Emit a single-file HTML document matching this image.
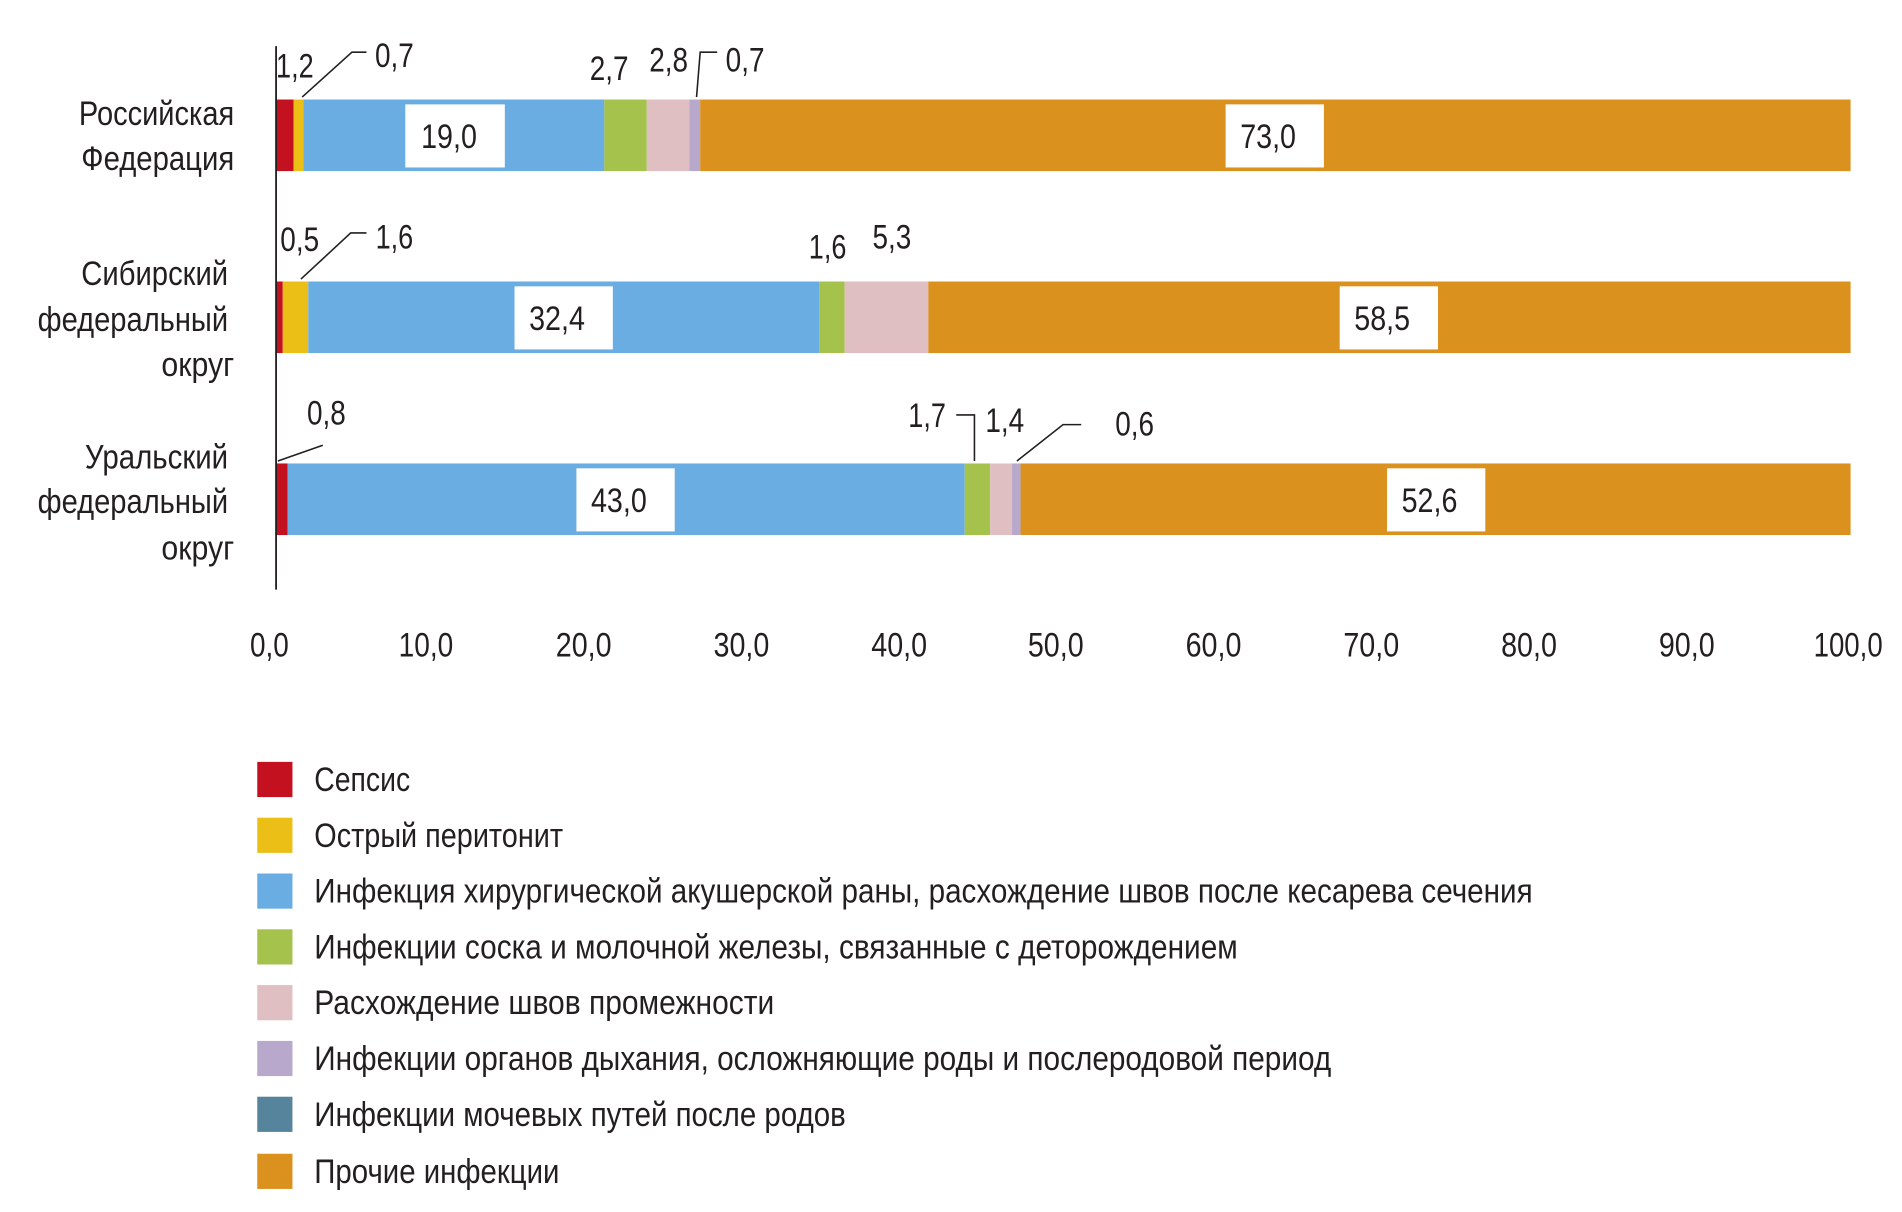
<!DOCTYPE html>
<html><head><meta charset="utf-8"><style>
html,body{margin:0;padding:0;background:#fff}
svg{display:block}
text{font-family:"Liberation Sans Narrow","Liberation Sans","Noto Sans CJK SC",sans-serif;fill:#231f20;font-size:28px}
</style></head><body>
<svg width="1902" height="1212" viewBox="0 0 1560 994" xmlns="http://www.w3.org/2000/svg">
<rect width="1560" height="994" fill="#fff"/>
<g transform="scale(0.9953,0.995)">
<!-- bar 1 -->
<rect x="227" y="82" width="15" height="59" fill="#c4111f"/>
<rect x="242" y="82" width="8" height="59" fill="#ecbf16"/>
<rect x="250" y="82" width="248" height="59" fill="#6aade2"/>
<rect x="498" y="82" width="35" height="59" fill="#a4c24c"/>
<rect x="533" y="82" width="35" height="59" fill="#dfbfc1"/>
<rect x="568" y="82" width="9" height="59" fill="#b7a8cc"/>
<rect x="577" y="82" width="948" height="59" fill="#db911d"/>
<!-- bar 2 -->
<rect x="227" y="232" width="6" height="59" fill="#c4111f"/>
<rect x="233" y="232" width="21" height="59" fill="#ecbf16"/>
<rect x="254" y="232" width="421" height="59" fill="#6aade2"/>
<rect x="675" y="232" width="21" height="59" fill="#a4c24c"/>
<rect x="696" y="232" width="69" height="59" fill="#dfbfc1"/>
<rect x="765" y="232" width="760" height="59" fill="#db911d"/>
<!-- bar 3 -->
<rect x="227" y="382" width="10" height="59" fill="#c4111f"/>
<rect x="237" y="382" width="558" height="59" fill="#6aade2"/>
<rect x="795" y="382" width="21" height="59" fill="#a4c24c"/>
<rect x="816" y="382" width="18" height="59" fill="#dfbfc1"/>
<rect x="834" y="382" width="7" height="59" fill="#b7a8cc"/>
<rect x="841" y="382" width="684" height="59" fill="#db911d"/>
<!-- axis -->
<line x1="227.5" y1="38" x2="227.5" y2="486" stroke="#231f20" stroke-width="1.5"/>
<!-- value boxes -->
<g fill="#fff">
<rect x="334" y="86" width="82" height="52"/><rect x="1010" y="86" width="81" height="52"/>
<rect x="424" y="236" width="81" height="52"/><rect x="1104" y="236" width="81" height="52"/>
<rect x="475" y="386" width="81" height="52"/><rect x="1143" y="386" width="81" height="52"/>
</g>
<g text-anchor="middle">
<text x="370" y="122" textLength="46" lengthAdjust="spacingAndGlyphs">19,0</text><text x="1045" y="122" textLength="46" lengthAdjust="spacingAndGlyphs">73,0</text>
<text x="459" y="272" textLength="46" lengthAdjust="spacingAndGlyphs">32,4</text><text x="1139" y="272" textLength="46" lengthAdjust="spacingAndGlyphs">58,5</text>
<text x="510" y="422" textLength="46" lengthAdjust="spacingAndGlyphs">43,0</text><text x="1178" y="422" textLength="46" lengthAdjust="spacingAndGlyphs">52,6</text>
</g>
<!-- annotations -->
<g fill="none" stroke="#231f20" stroke-width="1.3">
<polyline points="249,80 290,43 302,43"/>
<polyline points="574,80 577,43 591,43"/>
<polyline points="248,230 289,192 302,192"/>
<polyline points="229,380 266,367"/>
<polyline points="788,342 803,342 803,380"/>
<polyline points="838,380 876,350 891,350"/>
</g>
<g text-anchor="middle">
<text x="243" y="64" textLength="31" lengthAdjust="spacingAndGlyphs">1,2</text><text x="325" y="55" textLength="32" lengthAdjust="spacingAndGlyphs">0,7</text>
<text x="502" y="66" textLength="32" lengthAdjust="spacingAndGlyphs">2,7</text><text x="551" y="59" textLength="32" lengthAdjust="spacingAndGlyphs">2,8</text><text x="614" y="59" textLength="32" lengthAdjust="spacingAndGlyphs">0,7</text>
<text x="247" y="207" textLength="32" lengthAdjust="spacingAndGlyphs">0,5</text><text x="325" y="205" textLength="31" lengthAdjust="spacingAndGlyphs">1,6</text>
<text x="682" y="213" textLength="31" lengthAdjust="spacingAndGlyphs">1,6</text><text x="735" y="205" textLength="32" lengthAdjust="spacingAndGlyphs">5,3</text>
<text x="269" y="350" textLength="32" lengthAdjust="spacingAndGlyphs">0,8</text><text x="764" y="352" textLength="31" lengthAdjust="spacingAndGlyphs">1,7</text><text x="828" y="356" textLength="32" lengthAdjust="spacingAndGlyphs">1,4</text><text x="935" y="359" textLength="32" lengthAdjust="spacingAndGlyphs">0,6</text>
</g>
<!-- category labels -->
<g text-anchor="end">
<text x="193" y="103" textLength="128" lengthAdjust="spacingAndGlyphs">Российская</text><text x="193" y="140" textLength="126" lengthAdjust="spacingAndGlyphs">Федерация</text>
<text x="188" y="235" textLength="121" lengthAdjust="spacingAndGlyphs">Сибирский</text><text x="188" y="273" textLength="157" lengthAdjust="spacingAndGlyphs">федеральный</text><text x="193" y="310" textLength="60" lengthAdjust="spacingAndGlyphs">округ</text>
<text x="188" y="386" textLength="118" lengthAdjust="spacingAndGlyphs">Уральский</text><text x="188" y="423" textLength="157" lengthAdjust="spacingAndGlyphs">федеральный</text><text x="193" y="461" textLength="60" lengthAdjust="spacingAndGlyphs">округ</text>
</g>
<!-- ticks -->
<g text-anchor="middle">
<text x="222" y="541" textLength="32" lengthAdjust="spacingAndGlyphs">0,0</text><text x="351" y="541" textLength="45" lengthAdjust="spacingAndGlyphs">10,0</text><text x="481" y="541" textLength="46" lengthAdjust="spacingAndGlyphs">20,0</text>
<text x="611" y="541" textLength="46" lengthAdjust="spacingAndGlyphs">30,0</text><text x="741" y="541" textLength="46" lengthAdjust="spacingAndGlyphs">40,0</text><text x="870" y="541" textLength="46" lengthAdjust="spacingAndGlyphs">50,0</text>
<text x="1000" y="541" textLength="46" lengthAdjust="spacingAndGlyphs">60,0</text><text x="1130" y="541" textLength="46" lengthAdjust="spacingAndGlyphs">70,0</text><text x="1260" y="541" textLength="46" lengthAdjust="spacingAndGlyphs">80,0</text>
<text x="1390" y="541" textLength="46" lengthAdjust="spacingAndGlyphs">90,0</text><text x="1523" y="541" textLength="57" lengthAdjust="spacingAndGlyphs">100,0</text>
</g>
<!-- legend -->
<rect x="212" y="628" width="29" height="29" fill="#c4111f"/>
<rect x="212" y="674" width="29" height="29" fill="#ecbf16"/>
<rect x="212" y="720" width="29" height="29" fill="#6aade2"/>
<rect x="212" y="766" width="29" height="29" fill="#a4c24c"/>
<rect x="212" y="812" width="29" height="29" fill="#dfbfc1"/>
<rect x="212" y="858" width="29" height="29" fill="#b7a8cc"/>
<rect x="212" y="904" width="29" height="29" fill="#56849c"/>
<rect x="212" y="951" width="29" height="29" fill="#db911d"/>
<text x="259" y="652" textLength="79" lengthAdjust="spacingAndGlyphs">Сепсис</text>
<text x="259" y="698" textLength="205" lengthAdjust="spacingAndGlyphs">Острый перитонит</text>
<text x="259" y="744" textLength="1004" lengthAdjust="spacingAndGlyphs">Инфекция хирургической акушерской раны, расхождение швов после кесарева сечения</text>
<text x="259" y="790" textLength="761" lengthAdjust="spacingAndGlyphs">Инфекции соска и молочной железы, связанные с деторождением</text>
<text x="259" y="836" textLength="379" lengthAdjust="spacingAndGlyphs">Расхождение швов промежности</text>
<text x="259" y="882" textLength="838" lengthAdjust="spacingAndGlyphs">Инфекции органов дыхания, осложняющие роды и послеродовой период</text>
<text x="259" y="928" textLength="438" lengthAdjust="spacingAndGlyphs">Инфекции мочевых путей после родов</text>
<text x="259" y="975" textLength="202" lengthAdjust="spacingAndGlyphs">Прочие инфекции</text>
</g>
</svg>
</body></html>
